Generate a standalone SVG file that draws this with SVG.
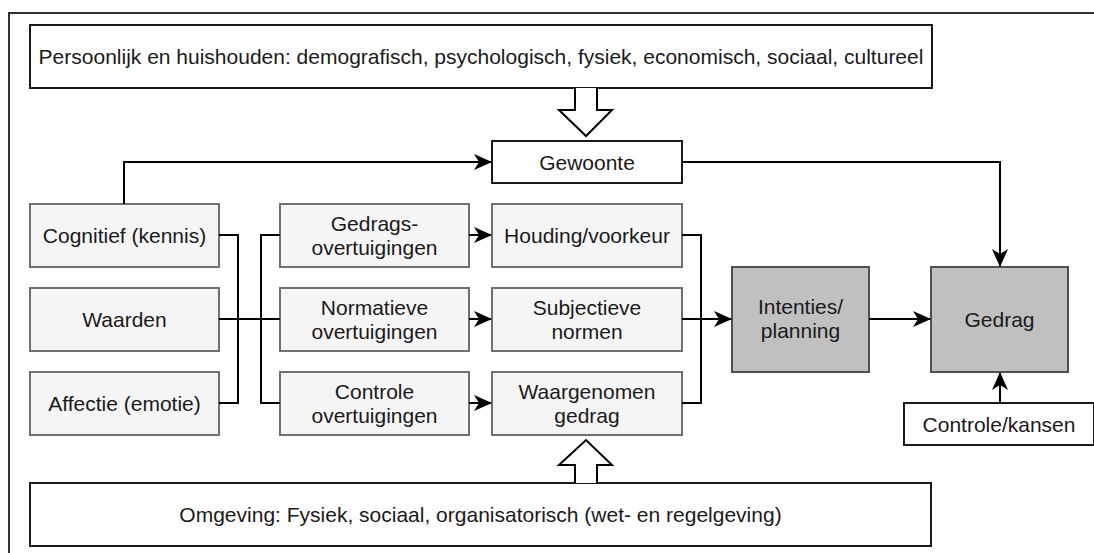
<svg xmlns="http://www.w3.org/2000/svg" width="1094" height="553" viewBox="0 0 1094 553">
<defs>
<style>
.t{font-family:"Liberation Sans",Arial,sans-serif;font-size:21px;fill:#1a1a1a;text-anchor:middle}
.w{fill:#ffffff;stroke:#1a1a1a;stroke-width:2}
.l{fill:#f5f5f5;stroke:#707070;stroke-width:2}
.g{fill:#c0c0c0;stroke:#505050;stroke-width:2}
.c{fill:none;stroke:#000;stroke-width:2}
.ha{fill:#fff;stroke:#000;stroke-width:2;stroke-linejoin:miter}
</style>
<marker id="ar" markerUnits="userSpaceOnUse" viewBox="0 0 18 16" markerWidth="18" markerHeight="16" refX="17" refY="8" orient="auto">
<path d="M0,0 L18,8 L0,16 L5,8 Z" fill="#000"/>
</marker>
</defs>
<rect x="9" y="13" width="1100" height="560" fill="#fff" stroke="#333" stroke-width="2"/>

<g id="persoonlijk"><rect class="w" x="30" y="25" width="902" height="63"/><text class="t" x="481" y="63.5">Persoonlijk en huishouden: demografisch, psychologisch, fysiek, economisch, sociaal, cultureel</text></g>
<g id="gewoonte"><rect class="w" x="492" y="141" width="190" height="42"/><text class="t" x="587" y="169.5">Gewoonte</text></g>
<g id="cognitief"><rect class="l" x="30" y="204" width="189" height="63"/><text class="t" x="124.5" y="243">Cognitief (kennis)</text></g>
<g id="waarden"><rect class="l" x="30" y="288" width="189" height="63"/><text class="t" x="124.5" y="327">Waarden</text></g>
<g id="affectie"><rect class="l" x="30" y="372" width="189" height="63"/><text class="t" x="124.5" y="411">Affectie (emotie)</text></g>
<g id="gedragsovertuigingen"><rect class="l" x="280" y="204" width="189" height="63"/><text class="t" x="374.5" y="230.5">Gedrags-</text><text class="t" x="374.5" y="254.5">overtuigingen</text></g>
<g id="normatieve"><rect class="l" x="280" y="288" width="189" height="63"/><text class="t" x="374.5" y="314.5">Normatieve</text><text class="t" x="374.5" y="338.5">overtuigingen</text></g>
<g id="controleovertuigingen"><rect class="l" x="280" y="372" width="189" height="63"/><text class="t" x="374.5" y="398.5">Controle</text><text class="t" x="374.5" y="422.5">overtuigingen</text></g>
<g id="houding"><rect class="l" x="492" y="204" width="190" height="63"/><text class="t" x="587" y="243">Houding/voorkeur</text></g>
<g id="subjectieve"><rect class="l" x="492" y="288" width="190" height="63"/><text class="t" x="587" y="314.5">Subjectieve</text><text class="t" x="587" y="338.5">normen</text></g>
<g id="waargenomen"><rect class="l" x="492" y="372" width="190" height="63"/><text class="t" x="587" y="398.5">Waargenomen</text><text class="t" x="587" y="422.5">gedrag</text></g>
<g id="intenties"><rect class="g" x="732" y="267" width="137" height="105"/><text class="t" x="800.5" y="314">Intenties/</text><text class="t" x="800.5" y="338">planning</text></g>
<g id="gedrag"><rect class="g" x="931" y="267" width="137" height="105"/><text class="t" x="999.5" y="327">Gedrag</text></g>
<g id="controlekansen"><rect class="w" x="904" y="403" width="190" height="42"/><text class="t" x="999" y="431.5">Controle/kansen</text></g>
<g id="omgeving"><rect class="w" x="30" y="483" width="901" height="63"/><text class="t" x="480.5" y="522">Omgeving: Fysiek, sociaal, organisatorisch (wet- en regelgeving)</text></g>

<g id="connectors">
<path class="ha" d="M575,88 L575,110 L559,110 L586,136 L612,110 L597,110 L597,88"/>
<path class="ha" d="M575,483 L575,465 L559,465 L586,440 L612,465 L597,465 L597,483"/>
<path class="c" d="M124,204 L124,162 L491,162" marker-end="url(#ar)"/>
<path class="c" d="M682,162 L1000,162 L1000,266" marker-end="url(#ar)"/>
<path class="c" d="M219,235 L238,235 L238,403 L219,403"/>
<path class="c" d="M219,319 L280,319"/>
<path class="c" d="M280,235 L261,235 L261,403 L280,403"/>
<path class="c" d="M469,235 L491,235" marker-end="url(#ar)"/>
<path class="c" d="M469,319 L491,319" marker-end="url(#ar)"/>
<path class="c" d="M469,403 L491,403" marker-end="url(#ar)"/>
<path class="c" d="M682,235 L701,235 L701,403 L682,403"/>
<path class="c" d="M682,319 L731,319" marker-end="url(#ar)"/>
<path class="c" d="M869,319 L930,319" marker-end="url(#ar)"/>
<path class="c" d="M1000,403 L1000,373" marker-end="url(#ar)"/>
</g>
</svg>
